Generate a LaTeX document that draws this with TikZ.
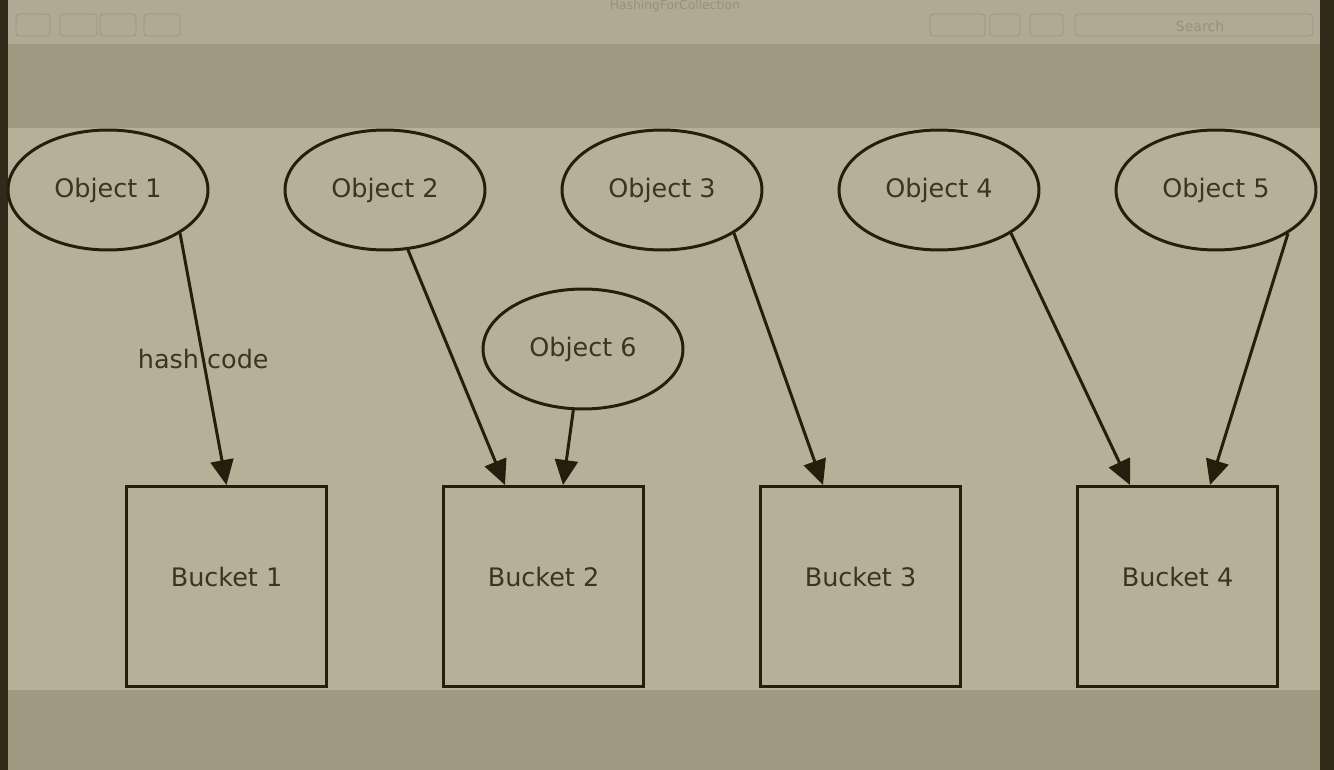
\documentclass[tikz,border=0pt]{standalone}
\usepackage{fontspec}
\setmainfont{DejaVu Sans}
\definecolor{inkbrown}{RGB}{38, 30, 12}
\definecolor{textbrown}{RGB}{58, 52, 36}
\definecolor{canvastan}{RGB}{183, 176, 153}
\definecolor{bandtan}{RGB}{160, 154, 131}
\definecolor{bartan}{RGB}{176, 170, 149}
\definecolor{edgedark}{RGB}{48, 42, 24}
\definecolor{fainttan}{RGB}{150, 144, 124}
\usetikzlibrary{shapes, arrows.meta, positioning}

\tikzset{
  objnode/.style={draw=inkbrown, ellipse, line width=1.7pt, minimum width=4cm, minimum height=2.4cm,
    text=textbrown, font=\fontsize{14.5}{17}\selectfont},
  bucketnode/.style={draw=inkbrown, rectangle, line width=1.7pt, minimum size=4cm, text depth=11pt,
    text=textbrown, font=\fontsize{14.5}{17}\selectfont},
  hashedge/.style={draw=inkbrown, line width=1.7pt, -{Triangle[length=0.5cm, width=0.46cm]}},
  toolbtn/.style={draw=fainttan!80!bartan, rounded corners=2pt, line width=0.5pt}
}

\begin{document}
\begin{tikzpicture}[x=0.02cm, y=-0.02cm]
  % window around the diagram
  \useasboundingbox (0,0) rectangle (1334,770);
  \fill[bartan] (0,0) rectangle (1334,44);
  \fill[bandtan] (0,44) rectangle (1334,770);
  \fill[canvastan] (8,128) rectangle (1320,690);
  \fill[edgedark] (0,0) rectangle (8,770);
  \fill[edgedark] (1320,0) rectangle (1334,770);
  \draw[toolbtn] (16,14) rectangle (50,36);
  \draw[toolbtn] (60,14) rectangle (97,36);
  \draw[toolbtn] (100,14) rectangle (136,36);
  \draw[toolbtn] (144,14) rectangle (180,36);
  \draw[toolbtn] (930,14) rectangle (985,36);
  \draw[toolbtn] (990,14) rectangle (1020,36);
  \draw[toolbtn] (1030,14) rectangle (1063,36);
  \draw[toolbtn] (1075,14) rectangle (1313,36);
  \node[text=fainttan, font=\fontsize{8}{9}\selectfont] (searchtxt) at (1200,26) {Search};
  \node[text=fainttan, font=\fontsize{7}{8}\selectfont, inner sep=1pt] (wintitle) at (675,6) {HashingForCollection};

  % objects
  \foreach \i/\px in {1/108, 2/385, 3/662, 4/939, 5/1216}
    \node[objnode] (o\i) at (\px,190) {Object \i};
  \node[objnode] (o6) at (583,349) {Object 6};

  % buckets
  \node[bucketnode] (b1) at (226.5,586.5) {Bucket 1};
  \node[bucketnode] (b2) at (543.5,586.5) {Bucket 2};
  \node[bucketnode] (b3) at (860.5,586.5) {Bucket 3};
  \node[bucketnode] (b4) at (1177.5,586.5) {Bucket 4};

  % hash code edges
  \draw[hashedge] (o1.-31.6) -- node[text=textbrown, font=\fontsize{14.5}{17}\selectfont] {hash code} (b1.north);
  \draw[hashedge] (o2.-69) -- ([xshift=-0.77cm]b2.north);
  \draw[hashedge] (o6.-99.5) -- ([xshift=0.39cm]b2.north);
  \draw[hashedge] (o3.-31.2) -- ([xshift=-0.75cm]b3.north);
  \draw[hashedge] (o4.-31.2) -- ([xshift=-0.95cm]b4.north);
  \draw[hashedge] (o5.-31.2) -- ([xshift=0.65cm]b4.north);
\end{tikzpicture}
\end{document}
